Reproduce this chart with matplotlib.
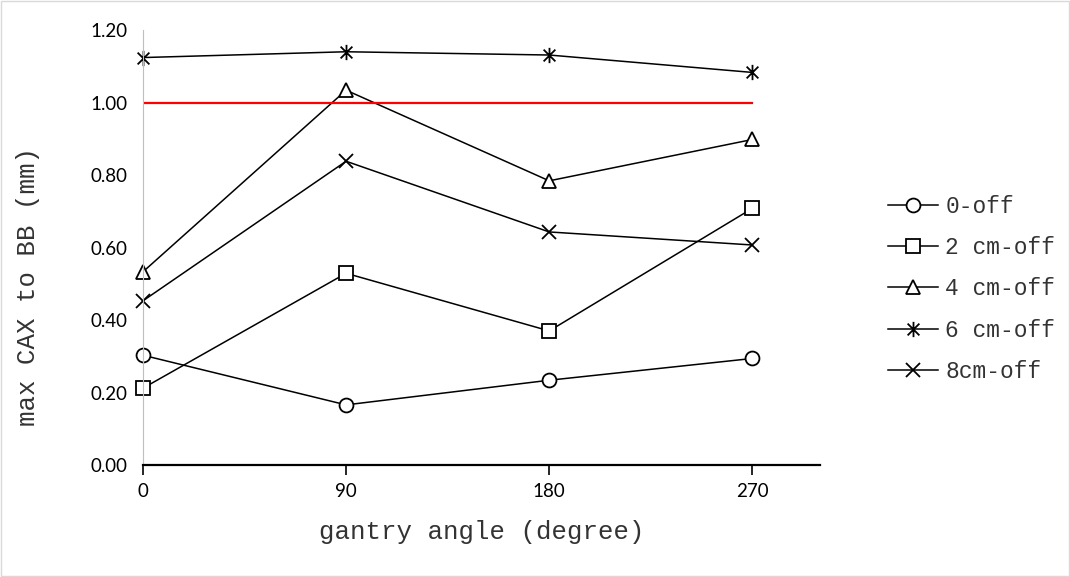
import matplotlib.pyplot as plt
from matplotlib.path import Path
from matplotlib.patches import Rectangle

angles = [0, 90, 180, 270]
off_0 = [0.303, 0.166, 0.234, 0.294]
off_2 = [0.212, 0.529, 0.370, 0.708]
off_4 = [0.533, 1.034, 0.784, 0.898]
off_6 = [1.124, 1.140, 1.131, 1.083]
off_8 = [0.453, 0.838, 0.643, 0.607]
labels = ["0-off", "2 cm-off", "4 cm-off", "6 cm-off", "8cm-off"]
tolerance = 1.00

# excel-style star marker: an x with a vertical bar through it
star = Path([(-1, -1), (1, 1), (-1, 1), (1, -1), (0, -1.3), (0, 1.3)],
            [Path.MOVETO, Path.LINETO, Path.MOVETO, Path.LINETO, Path.MOVETO, Path.LINETO])

fig = plt.figure(figsize=(10.7, 5.77), dpi=100)
fig.patches.append(Rectangle((0.001, 0.002), 0.998, 0.996, transform=fig.transFigure,
                             fill=False, edgecolor="#d9d9d9", lw=1))
ax = fig.add_axes([0.1336, 0.194, 0.6328, 0.754])

series = [off_0, off_2, off_4, off_6, off_8]
markers = ["o", "s", "^", star, "x"]
sizes = [10, 10, 10, 11, 10]
for vals, m, ms, lab in zip(series, markers, sizes, labels):
    ax.plot(angles, vals, color="black", lw=1.1, marker=m, ms=ms,
            mfc="white", mec="black", mew=1.3, label=lab, clip_on=False)

ax.plot([angles[0], angles[-1]], [tolerance, tolerance], color="red", lw=1.6)

ax.set_xlim(0, 300)
ax.set_ylim(0, 1.2)
ax.set_xticks(angles)
ax.set_yticks([0, 0.2, 0.4, 0.6, 0.8, 1.0, 1.2])
ax.set_yticklabels([f"{v:.2f}" for v in [0, 0.2, 0.4, 0.6, 0.8, 1.0, 1.2]])
for t in ax.get_xticklabels() + ax.get_yticklabels():
    t.set_fontfamily("Lato")
    t.set_fontsize(13.5)

ax.spines["top"].set_visible(False)
ax.spines["right"].set_visible(False)
ax.spines["left"].set_color("#bfbfbf")
ax.spines["bottom"].set_linewidth(1.6)
ax.tick_params(axis="y", length=0, pad=11)
ax.tick_params(axis="x", length=7, width=1.2, pad=6, direction="out")

txt = "#333333"
ax.set_xlabel("gantry angle (degree)", fontfamily="Liberation Mono", fontsize=18.5,
              color=txt, labelpad=14)
ax.set_ylabel("max CAX to BB (mm)", fontfamily="Liberation Mono", fontsize=18.5, color=txt)
ax.yaxis.set_label_coords(-0.152, 0.41)

leg = ax.legend(loc="center left", bbox_to_anchor=(1.07, 0.405), frameon=False,
                prop={"family": "Liberation Mono", "size": 16.5}, handlelength=2.2,
                labelspacing=0.8, handletextpad=0.3)
for t in leg.get_texts():
    t.set_color(txt)

fig.savefig("out.png", dpi=100)
